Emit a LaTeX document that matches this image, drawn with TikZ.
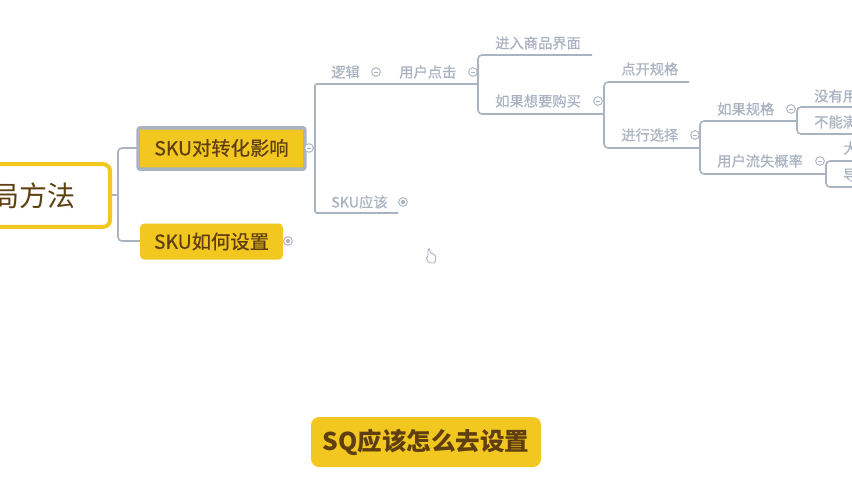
\documentclass[tikz,border=0pt]{standalone}
\usepackage{fontspec}
\setmainfont{Noto Sans CJK SC}
\newfontfamily\subfont[FakeBold=0.6]{Noto Sans CJK SC}
\usetikzlibrary{calc}
\definecolor{gold}{HTML}{F2C720}
\definecolor{ink}{HTML}{5F3F10}
\definecolor{slate}{HTML}{A9B3C1}
\tikzset{
  x=0.75pt,y=-0.75pt,
  conn/.style={draw=slate,line width=1.2pt,rounded corners=3pt},
  topic/.style={fill=gold,text=ink,rounded corners=3pt,inner sep=0pt,font=\subfont\fontsize{14.5pt}{16pt}\selectfont,minimum height=27pt},
  sub/.style={text=slate,inner sep=0pt,font=\subfont\fontsize{10.7pt}{12pt}\selectfont},
  toggle/.style={circle,draw=slate,line width=0.7pt,fill=white,minimum size=6.5pt,inner sep=0pt,
    path picture={\draw[slate,line width=0.7pt] ($(path picture bounding box.center)+(-1.6pt,0)$) -- ($(path picture bounding box.center)+(1.6pt,0)$);}},
  togglep/.style={toggle,path picture={\fill[slate] (path picture bounding box.center) circle (1.6pt);}},
}
\begin{document}
\begin{tikzpicture}
\useasboundingbox (0,0) rectangle (852,480);
\clip (0,0) rectangle (852,480);
\fill[white] (0,0) rectangle (852,480);

% connector anchors
\coordinate (rootR) at (111,195);
\coordinate (spine1) at (118,195);
\coordinate (t1L) at (137,148);
\coordinate (t2L) at (140,241);
\coordinate (l1) at (315,84);
\coordinate (l1b) at (315,213);
\coordinate (l1e) at (398,213);
\coordinate (l1m) at (478,84);
\coordinate (t1R) at (306,148);
\coordinate (a1) at (592,55);
\coordinate (a2) at (604,114);
\coordinate (b1) at (689,82);
\coordinate (b2) at (700,148);
\coordinate (c1) at (797,121);
\coordinate (c2) at (826,174);
\coordinate (d1) at (860,107);
\coordinate (d2) at (860,134);
\coordinate (e1) at (860,161);
\coordinate (e2) at (860,187);

% connectors
\draw[conn] (rootR) -- (spine1);
\draw[conn] (t1L) -| (spine1) |- (t2L);
\draw[conn] (t1R) -- (l1 |- t1R);
\draw[conn,rounded corners=1.5pt] (l1m) -- (l1) -- (l1b) -- (l1e);
\draw[conn] (a1) -| (l1m) |- (a2);
\draw[conn] (b1) -| (a2) |- (b2);
\draw[conn] (c1) -| (b2) |- (c2);
\draw[conn] (d1) -| (c1) |- (d2);
\draw[conn] (e1) -| (c2) |- (e2);

% root
\node[draw=gold,fill=white,line width=3pt,rounded corners=5pt,inner sep=0pt,
  minimum width=128pt,minimum height=47pt,anchor=east] (root) at (112,195.5) {};
\node[text=ink,inner sep=0pt,font=\fontsize{21pt}{24pt}\selectfont,anchor=east] (rootT) at (76,196) {局方法};

% main topics
\node[topic,draw=slate,line width=2.6pt,rounded corners=1.5pt,minimum width=125pt,minimum height=31pt] (t1box) at (221.5,148.5) {};
\node[topic,minimum width=122pt,rounded corners=1pt] (t1) at (221.5,148) {SKU对转化影响};
\node[topic,minimum width=107pt] (t2) at (211.5,241.5) {SKU如何设置};
\node[toggle] (t1tog) at (309,148) {};
\node[togglep] (t2tog) at (288,241) {};

% subtopics
\node[sub,anchor=west] (n1) at (331,72) {逻辑};
\node[sub,anchor=west] (n2) at (331,202) {SKU应该};
\node[sub,anchor=west] (n3) at (399,72) {用户点击};
\node[sub,anchor=west] (n4) at (495,43) {进入商品界面};
\node[sub,anchor=west] (n5) at (495,101) {如果想要购买};
\node[sub,anchor=west] (n6) at (621,69) {点开规格};
\node[sub,anchor=west] (n7) at (621,135) {进行选择};
\node[sub,anchor=west] (n8) at (717,109) {如果规格};
\node[sub,anchor=west] (n9) at (717,161) {用户流失概率};
\node[sub,anchor=west] (n10) at (814,96) {没有用};
\node[sub,anchor=west] (n11) at (814,122) {不能满};
\node[sub,anchor=west] (n12) at (843,148) {大};
\node[sub,anchor=west] (n13) at (843,175) {导};

% collapse toggles
\node[toggle] (g1) at (376,72) {};
\node[togglep] (g2) at (403,202) {};
\node[toggle] (g3) at (473,72) {};
\node[toggle] (g4) at (598,101) {};
\node[toggle] (g5) at (695,135) {};
\node[toggle] (g6) at (791,109) {};
\node[toggle] (g7) at (820,161) {};

% floating topic
\node[fill=gold,text=ink,rounded corners=6pt,inner sep=0pt,minimum width=172.5pt,minimum height=37.5pt,
  font=\fontsize{18.4pt}{24pt}\selectfont\bfseries] (sq) at (426,442) {SQ应该怎么去设置};

% hand cursor
\draw[slate,fill=white,line width=0.7pt,rounded corners=1pt]
  (428,249) -- (430,249) -- (430,253) -- (434,254) -- (436,257) -- (435,263) -- (429,263) -- (426,258) -- (428,257) -- cycle;
\end{tikzpicture}
\end{document}
